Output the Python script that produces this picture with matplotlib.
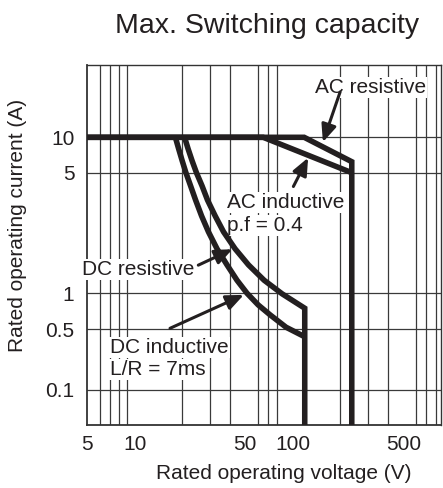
import numpy as np
import matplotlib
matplotlib.use("Agg")
import matplotlib.pyplot as plt
from matplotlib.ticker import NullFormatter

plt.rcParams['font.family'] = ['Liberation Sans', 'DejaVu Sans']

ink = '#231f20'

# axis ticks
x_ticks = [5, 10, 50, 100, 500]
x_tick_labels = ['5', '10', '50', '100', '500']
x_grid = [6, 7, 8, 9, 10, 20, 30, 40, 50, 60, 70, 80, 100,
          200, 300, 400, 500, 600, 700, 800]
y_ticks = [0.1, 0.5, 1, 5, 10]
y_tick_labels = ['0.1', '0.5', '1', '5', '10']

# limit curves (voltage V, current A)
ac_res_v = [5, 118, 236, 236]
ac_res_a = [10, 10, 6.2, 0.03]
ac_ind_v = [5, 65, 236]
ac_ind_a = [10, 10, 5]
dc_res_v = [20.7, 21.8, 23.1, 24.6, 26.7, 28.9, 32.3, 36.5, 43.2, 52.5,
            65.9, 85.6, 119, 119]
dc_res_a = [10, 7.95, 6.3, 5.0, 4.19, 3.47, 2.81, 2.27, 1.81, 1.46,
            1.19, 0.99, 0.75, 0.03]
dc_ind_v = [18.1, 19, 20, 21.1, 22.6, 24.3, 26.5, 29.3, 33.2, 38.4,
            44.4, 51.4, 60.4, 71.9, 90.7, 119]
dc_ind_a = [10, 7.95, 6.3, 5.0, 4.19, 3.47, 2.81, 2.27, 1.81, 1.46,
            1.19, 1.0, 0.8, 0.66, 0.52, 0.41]

# the printed current axis is not an even log scale: piecewise log
knot_log = [-2, -1, np.log10(0.5), 0, np.log10(5), 1, 2]
knot_pos = [-51.8, 35, 95.7, 131.7, 252.3, 287.7, 405.3]


def fwd(y):
    y = np.clip(np.asarray(y, dtype=float), 1e-6, None)
    return np.interp(np.log10(y), knot_log, knot_pos)


def inv(h):
    return 10 ** np.interp(np.asarray(h, dtype=float), knot_pos, knot_log)


fig = plt.figure(figsize=(4.43, 4.88), dpi=100)
ax = fig.add_axes([87 / 443, 63 / 488, 354 / 443, 360 / 488])

ax.set_xscale('log')
ax.set_yscale('function', functions=(fwd, inv))
ax.set_xlim(5, 865)
ax.set_ylim(0.0395, 41.2)

ax.set_xticks(x_ticks, labels=x_tick_labels)
ax.set_xticks(x_grid, minor=True)
ax.xaxis.set_minor_formatter(NullFormatter())
ax.set_yticks(y_ticks, labels=y_tick_labels)
ax.set_yticks([], minor=True)
ax.tick_params(axis='both', which='both', length=0, labelsize=15,
               colors=ink)
ax.tick_params(axis='x', pad=7)
ax.tick_params(axis='y', pad=9)

ax.grid(True, axis='x', which='minor', color='#3a3a3a', lw=0.9, zorder=0)
ax.grid(True, axis='y', which='major', color='#3a3a3a', lw=0.9, zorder=0)
ax.set_axisbelow(True)
for side, sp in ax.spines.items():
    sp.set_color('#333333')
    sp.set_linewidth(1.3 if side in ('left', 'bottom') else 1.0)

style = dict(color=ink, lw=4.0, solid_joinstyle='miter',
             solid_capstyle='butt', zorder=3, clip_on=True)
ax.plot(ac_res_v, ac_res_a, **style)
ax.plot(ac_ind_v, ac_ind_a, **style)
ax.plot(dc_res_v, dc_res_a, **style)
ax.plot(dc_ind_v, dc_ind_a, **style)

box = dict(boxstyle='square,pad=0.05', fc='white', ec='none')
tkw = dict(transform=ax.transAxes, fontsize=15, color=ink, ha='left',
           va='baseline', bbox=box, zorder=2.6)
ax.text(0.644, 0.922, 'AC resistive', **tkw)
ax.text(0.3955, 0.603, 'AC inductive', **tkw)
ax.text(0.3955, 0.539, 'p.f = 0.4', **tkw)
ax.text(-0.015, 0.4167, 'DC resistive', **tkw)
ax.text(0.065, 0.199, 'DC inductive', **tkw)
ax.text(0.065, 0.139, 'L/R = 7ms', **tkw)

arrow = dict(arrowstyle='-|>,head_length=0.7,head_width=0.3', lw=2.2,
             color=ink, shrinkA=0, shrinkB=0, mutation_scale=15)
ax.annotate('', xy=(155, 9.1), xytext=(0.715, 0.925),
            textcoords='axes fraction', arrowprops=arrow, zorder=4)
ax.annotate('', xy=(125, 6.7), xytext=(0.583, 0.6625),
            textcoords='axes fraction', arrowprops=arrow, zorder=4)
ax.annotate('', xy=(41.5, 1.8), xytext=(0.3144, 0.444),
            textcoords='axes fraction', arrowprops=arrow, zorder=4)
ax.annotate('', xy=(49, 0.97), xytext=(0.2345, 0.2686),
            textcoords='axes fraction', arrowprops=arrow, zorder=4)

fig.text(115 / 443, 0.932, 'Max. Switching capacity', fontsize=20.5,
         color=ink, ha='left', va='baseline')
fig.text(284 / 443, 0.0184, 'Rated operating voltage (V)', fontsize=15,
         color=ink, ha='center', va='baseline')
fig.text(18 / 443, 0.539, 'Rated operating current (A)', fontsize=15,
         color=ink, ha='center', va='center', rotation=90)

fig.savefig('out.png', dpi=100)
